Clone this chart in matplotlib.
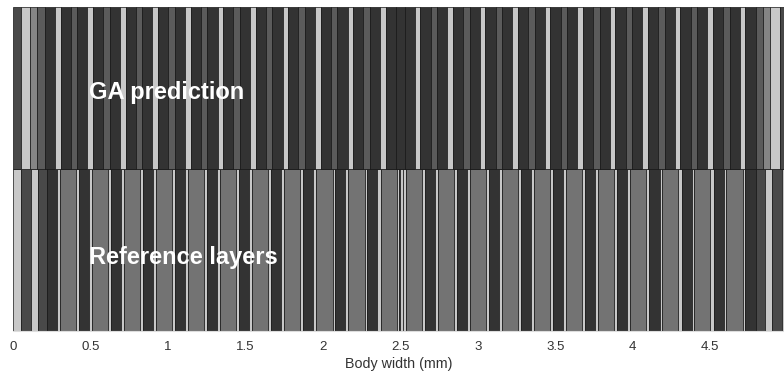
# !/usr/bin/python3
# coding: utf_8

""" Layer stack of the GA prediction against the reference layers """

import numpy as np
import matplotlib
matplotlib.use("Agg")
import matplotlib.pyplot as plt

# layer thicknesses (mm) and materials, read left to right
ga_widths = [
    0.048, 0.063, 0.043, 0.050, 0.065,
    0.036, 0.066, 0.042, 0.066,
    0.036, 0.066, 0.042, 0.066,
    0.036, 0.066, 0.042, 0.066,
    0.036, 0.066, 0.042, 0.066,
    0.036, 0.066, 0.042, 0.066,
    0.036, 0.066, 0.042, 0.066,
    0.036, 0.066, 0.042, 0.066,
    0.036, 0.066, 0.042, 0.066,
    0.036, 0.066, 0.042, 0.066,
    0.036, 0.066, 0.042, 0.066,
    0.036, 0.065, 0.058, 0.065, 0.036,
    0.066, 0.042, 0.066, 0.036,
    0.066, 0.042, 0.066, 0.036,
    0.066, 0.042, 0.066, 0.036,
    0.066, 0.042, 0.066, 0.036,
    0.066, 0.042, 0.066, 0.036,
    0.066, 0.042, 0.066, 0.036,
    0.066, 0.042, 0.066, 0.036,
    0.066, 0.042, 0.066, 0.036,
    0.066, 0.042, 0.066, 0.036,
    0.066, 0.042, 0.066, 0.036,
    0.065, 0.050, 0.043, 0.063, 0.048,
]
ga_materials = [
    "D4", "L", "M", "G", "D",
    "L", "D", "G", "D",
    "L", "D", "G", "D",
    "L", "D", "G", "D",
    "L", "D", "G", "D",
    "L", "D", "G", "D",
    "L", "D", "G", "D",
    "L", "D", "G", "D",
    "L", "D", "G", "D",
    "L", "D", "G", "D",
    "L", "D", "G", "D",
    "L", "D", "D", "D", "L",
    "D", "G", "D", "L",
    "D", "G", "D", "L",
    "D", "G", "D", "L",
    "D", "G", "D", "L",
    "D", "G", "D", "L",
    "D", "G", "D", "L",
    "D", "G", "D", "L",
    "D", "G", "D", "L",
    "D", "G", "D", "L",
    "D", "G", "D", "L",
    "D", "G", "M", "L", "D4",
]

ref_widths = [
    0.048, 0.064, 0.046, 0.060, 0.066, 0.018,
    0.104, 0.018, 0.065, 0.020,
    0.104, 0.018, 0.065, 0.020,
    0.104, 0.018, 0.065, 0.020,
    0.104, 0.018, 0.065, 0.020,
    0.104, 0.018, 0.065, 0.020,
    0.104, 0.018, 0.065, 0.020,
    0.104, 0.018, 0.065, 0.020,
    0.104, 0.018, 0.065, 0.020,
    0.104, 0.018, 0.065, 0.020,
    0.104, 0.018, 0.065, 0.020,
    0.104, 0.014, 0.008, 0.016, 0.022, 0.104,
    0.020, 0.065, 0.018, 0.104,
    0.020, 0.065, 0.018, 0.104,
    0.020, 0.065, 0.018, 0.104,
    0.020, 0.065, 0.018, 0.104,
    0.020, 0.065, 0.018, 0.104,
    0.020, 0.065, 0.018, 0.104,
    0.020, 0.065, 0.018, 0.104,
    0.020, 0.065, 0.018, 0.104,
    0.020, 0.065, 0.018, 0.104,
    0.020, 0.065, 0.018, 0.104,
    0.018, 0.066, 0.060, 0.046, 0.064, 0.048,
]
ref_materials = [
    "L", "D4", "L", "D4", "D", "L",
    "M2", "L", "D", "L",
    "M2", "L", "D", "L",
    "M2", "L", "D", "L",
    "M2", "L", "D", "L",
    "M2", "L", "D", "L",
    "M2", "L", "D", "L",
    "M2", "L", "D", "L",
    "M2", "L", "D", "L",
    "M2", "L", "D", "L",
    "M2", "L", "D", "L",
    "M2", "L", "D4", "L", "L", "M2",
    "L", "D", "L", "M2",
    "L", "D", "L", "M2",
    "L", "D", "L", "M2",
    "L", "D", "L", "M2",
    "L", "D", "L", "M2",
    "L", "D", "L", "M2",
    "L", "D", "L", "M2",
    "L", "D", "L", "M2",
    "L", "D", "L", "M2",
    "L", "D", "L", "M2",
    "L", "D", "D4", "L", "D4", "L",
]

row_labels = ["Reference layers", "GA prediction"]
x_ticks = [0, 0.5, 1, 1.5, 2, 2.5, 3, 3.5, 4, 4.5]

colors = {
    "L": "#c8c8c8",
    "D": "#333333",
    "D4": "#494949",
    "G": "#5b5b5b",
    "M": "#858585",
    "M2": "#737373",
}


def plot_row(ax, y, widths, materials):
    """
    :param y: float
        Row centre
    :return: void
        Draws one stack of layers as adjacent bars
    """

    widths = np.array(widths)
    lefts = np.concatenate(([0.0], np.cumsum(widths)[:-1]))
    ax.barh(
        [y] * len(widths),
        widths,
        left=lefts,
        height=1.0,
        color=[colors[m] for m in materials],
        edgecolor="#141414",
        linewidth=0.5,
    )


fig = plt.figure(figsize=(7.84, 3.74), dpi=100)
ax = fig.add_axes([13.3 / 784, 1 - 331 / 374, 1 - 13.3 / 784, 324 / 374])

plot_row(ax, 0.5, ref_widths, ref_materials)
plot_row(ax, 1.5, ga_widths, ga_materials)

ax.set_xlim(0, 4.978)
ax.set_ylim(0, 2)
ax.set_yticks([])
ax.set_xticks(x_ticks)
ax.set_xticklabels(["%g" % t for t in x_ticks], fontsize=9.5,
                   family="Liberation Sans", color="#333333")
ax.tick_params(axis="x", length=0, pad=7)
for side in ["top", "right", "left"]:
    ax.spines[side].set_visible(False)
ax.spines["bottom"].set_color("#dddddd")
ax.set_xlabel("Body width (mm)", fontsize=10.3, family="Liberation Sans",
              color="#333333", labelpad=3)

ax.text(0.49, 1.475, row_labels[1], color="white", fontsize=17,
        fontweight="bold", family="Liberation Sans", va="center")
ax.text(0.49, 0.455, row_labels[0], color="white", fontsize=17,
        fontweight="bold", family="Liberation Sans", va="center")

fig.savefig("out.png", dpi=100)
